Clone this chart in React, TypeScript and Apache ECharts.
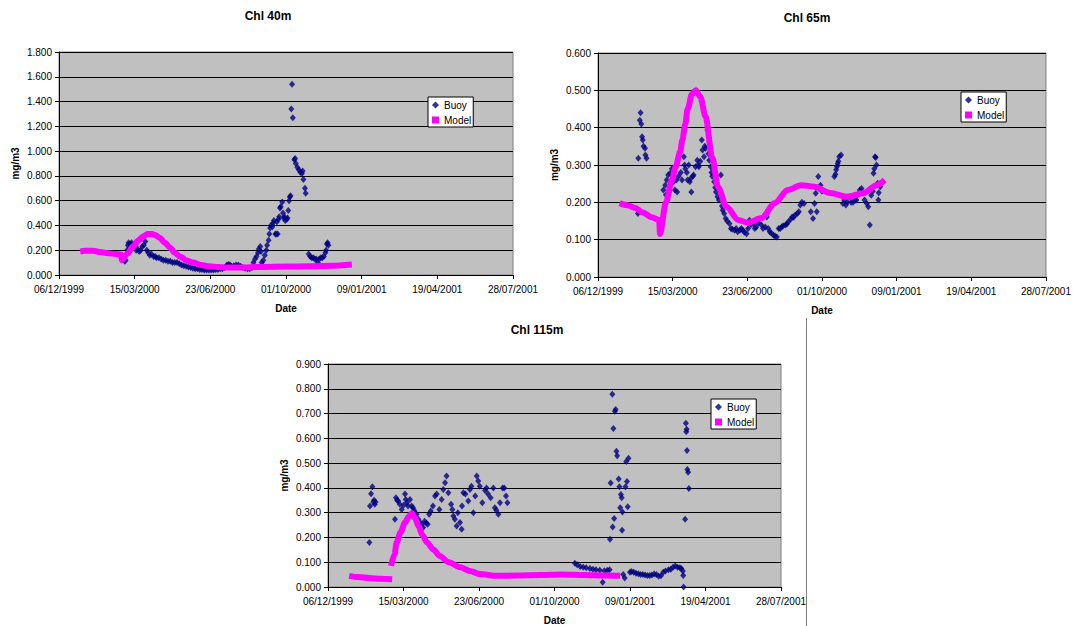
import React, { useEffect, useRef } from "react";
import * as echarts from "echarts";

const FONT = '"Liberation Sans", Arial, Helvetica, sans-serif';

// x values are days counted from 06/12/1999
const START_UTC = Date.UTC(1999, 11, 6);
const X_MAX_DAYS = 600;
const X_STEP_DAYS = 100;

const chartTitles = ["Chl 40m", "Chl 65m", "Chl 115m"];
const yMaxes = [1.8, 0.6, 0.9];
const yIntervals = [0.2, 0.1, 0.1];

const buoy40: [number, number][] = [
  [87, 0.11], [88, 0.12], [90, 0.2], [91, 0.24], [92, 0.26], [94, 0.25], [96, 0.26], [98, 0.24], [100, 0.24],
  [102, 0.2], [104, 0.21], [106, 0.19], [108, 0.2], [110, 0.23], [112, 0.24], [114, 0.27], [116, 0.2], [118, 0.18],
  [120, 0.16], [122, 0.17], [125, 0.15], [127, 0.15], [129, 0.14], [132, 0.14], [135, 0.13], [138, 0.12], [141, 0.12],
  [144, 0.11], [147, 0.11], [150, 0.1], [153, 0.1], [156, 0.1], [159, 0.09], [162, 0.08], [165, 0.075], [168, 0.07],
  [171, 0.065], [174, 0.06], [177, 0.055], [180, 0.05], [183, 0.05], [186, 0.045], [189, 0.045], [192, 0.04],
  [195, 0.04], [198, 0.04], [201, 0.04], [204, 0.04], [207, 0.045], [210, 0.045], [213, 0.05], [216, 0.05],
  [219, 0.06], [222, 0.08], [224, 0.085], [226, 0.08], [228, 0.07], [231, 0.075], [234, 0.08], [237, 0.08],
  [240, 0.07], [243, 0.06], [246, 0.055], [249, 0.05], [252, 0.05], [255, 0.06], [257, 0.1], [259, 0.13],
  [261, 0.15], [263, 0.18], [264, 0.21], [266, 0.23], [267, 0.19], [268, 0.1], [270, 0.12], [272, 0.16],
  [274, 0.2], [275, 0.24], [277, 0.28], [278, 0.33], [279, 0.38], [280, 0.4], [282, 0.39], [283, 0.42],
  [284, 0.44], [286, 0.33], [287, 0.33], [288, 0.43], [289, 0.33], [290, 0.45], [291, 0.47], [292, 0.54],
  [293, 0.55], [295, 0.59], [296, 0.5], [297, 0.46], [298, 0.47], [299, 0.44], [301, 0.45], [302, 0.46],
  [303, 0.52], [304, 0.6], [305, 0.63], [306, 0.64], [307, 1.34], [308, 1.54], [309, 1.27], [311, 0.93],
  [312, 0.94], [313, 0.9], [315, 0.87], [317, 0.85], [319, 0.83], [321, 0.82], [322, 0.84], [323, 0.77],
  [325, 0.7], [326, 0.66], [330, 0.17], [332, 0.15], [334, 0.14], [336, 0.14], [338, 0.13], [340, 0.13],
  [342, 0.1], [344, 0.13], [346, 0.14], [348, 0.14], [350, 0.15], [352, 0.18], [353, 0.2], [354, 0.25],
  [355, 0.26], [356, 0.24],
];

const model40: [number, number][] = [
  [28, 0.19], [35, 0.195], [45, 0.195], [55, 0.185], [65, 0.175], [75, 0.17], [82, 0.165], [83, 0.12],
  [90, 0.17], [98, 0.23], [105, 0.28], [111, 0.31], [117, 0.33], [123, 0.33], [128, 0.32], [133, 0.3],
  [140, 0.26], [147, 0.22], [153, 0.18], [160, 0.15], [168, 0.12], [177, 0.1], [188, 0.08], [199, 0.07],
  [210, 0.065], [222, 0.06], [240, 0.06], [265, 0.065], [300, 0.068], [331, 0.07], [360, 0.075], [387, 0.085],
];

const buoy65: [number, number][] = [
  [53.5, 0.17], [54, 0.318], [56, 0.42], [57, 0.44], [58, 0.41], [59, 0.376], [60, 0.367], [61, 0.35],
  [63, 0.345], [63.5, 0.327], [65, 0.318],
  [87.5, 0.233], [90, 0.246], [91, 0.22], [92, 0.26], [94, 0.273], [95, 0.228], [96.6, 0.278], [99, 0.29],
  [100, 0.265], [101, 0.255], [103, 0.233], [105, 0.26], [106, 0.228], [108, 0.27], [110, 0.336], [111, 0.28],
  [112.5, 0.26], [115, 0.322], [116, 0.3], [117, 0.29], [119, 0.28], [120, 0.26], [121.5, 0.3], [123, 0.255],
  [124, 0.264], [125, 0.228], [127, 0.27], [128, 0.273], [130.6, 0.295], [133, 0.313], [134, 0.3], [135, 0.295],
  [137, 0.31], [139, 0.367], [140, 0.34], [142, 0.322], [143, 0.35], [144, 0.345], [146.5, 0.394], [148, 0.33],
  [149, 0.313], [151, 0.295], [152, 0.28], [153, 0.27], [155.6, 0.255], [157, 0.24], [158, 0.228], [160, 0.215],
  [162, 0.206], [164.6, 0.273], [166, 0.19], [167, 0.179], [169, 0.17], [171, 0.157], [173, 0.15], [176, 0.143],
  [178, 0.13], [180, 0.128], [183, 0.125], [185, 0.13], [187, 0.121], [190, 0.125], [192, 0.13], [194, 0.125],
  [196, 0.12], [199, 0.116], [201, 0.13], [203, 0.152], [205, 0.14], [208, 0.143], [210, 0.13], [212, 0.134],
  [215, 0.145], [219, 0.139], [221, 0.13], [224, 0.134], [226, 0.161], [228, 0.13], [230, 0.121], [232, 0.118],
  [235, 0.112], [237, 0.11], [239.5, 0.107], [242, 0.13], [244, 0.13], [246, 0.134], [248, 0.137], [251, 0.139],
  [253, 0.142], [255, 0.148], [258, 0.155], [260, 0.161], [262, 0.16], [264, 0.166], [267, 0.17], [269, 0.175],
  [271, 0.193], [273, 0.2], [276, 0.197],
  [285, 0.175], [288, 0.157], [290, 0.197], [291.6, 0.224], [293, 0.175], [295, 0.269], [296, 0.237],
  [298, 0.246], [300, 0.23],
  [316.6, 0.269], [318, 0.275], [319, 0.287], [320, 0.295], [321, 0.304], [322, 0.31], [323, 0.322],
  [325.6, 0.327], [328, 0.197], [330, 0.206], [332, 0.193], [334, 0.2], [337, 0.215], [339, 0.2], [341.5, 0.2],
  [344, 0.205], [346, 0.206], [348, 0.22], [350.6, 0.233], [353, 0.237], [355, 0.224], [357, 0.206],
  [360, 0.197], [362, 0.188], [364, 0.139], [366, 0.219], [368, 0.23], [369, 0.278], [370, 0.29], [371, 0.322],
  [372, 0.32], [373, 0.3], [374.6, 0.251], [375.5, 0.206], [376, 0.226], [378, 0.242],
];

const model65: [number, number][] = [
  [29, 0.198], [40, 0.192], [50, 0.185], [60, 0.173], [72, 0.16], [82, 0.153], [83, 0.115], [91, 0.2],
  [99, 0.26], [104, 0.295], [110, 0.335], [113, 0.367], [117, 0.41], [120, 0.45], [126, 0.49], [131, 0.5],
  [137, 0.483], [144, 0.43], [153, 0.32], [161, 0.24], [172, 0.188], [188, 0.153], [201, 0.145], [219, 0.158],
  [237, 0.198], [254, 0.233], [272, 0.246], [290, 0.242], [311, 0.225], [334, 0.215], [356, 0.225],
  [373, 0.246], [384, 0.26],
];

const buoy115: [number, number][] = [
  [54.8, 0.18], [55.6, 0.327], [57, 0.376], [58.7, 0.405], [60, 0.343], [61, 0.35], [62, 0.334], [63, 0.343],
  [88.7, 0.273], [90, 0.36], [91.5, 0.35], [93, 0.347], [95, 0.334], [97.6, 0.313], [100, 0.33], [102, 0.375],
  [103, 0.353], [104.5, 0.34], [106, 0.327], [108.6, 0.353], [110.8, 0.327], [112.5, 0.32], [114, 0.31],
  [115.5, 0.3], [117.4, 0.294], [119.6, 0.273], [122, 0.26], [124, 0.253], [126, 0.24], [128, 0.265],
  [130, 0.258], [132, 0.253], [134, 0.294], [136, 0.307], [139, 0.327], [141.7, 0.367], [144, 0.375],
  [147.5, 0.313], [150.5, 0.353], [152.7, 0.394], [155, 0.421], [157, 0.448], [159.4, 0.38], [163, 0.334],
  [164.7, 0.313], [166, 0.287], [168, 0.273], [170.4, 0.246], [172, 0.3], [174.8, 0.26], [177, 0.233],
  [177.5, 0.327], [179.3, 0.38], [182, 0.375], [185.8, 0.347], [188, 0.394], [190, 0.407], [192.5, 0.3],
  [195, 0.367], [197, 0.448], [199, 0.428], [201, 0.407], [204.4, 0.34], [208, 0.389], [210, 0.4],
  [212, 0.375], [215.4, 0.36], [219, 0.4], [221, 0.32], [223, 0.31], [225.6, 0.294], [227.8, 0.34],
  [231.4, 0.4], [233.5, 0.4], [235.8, 0.367], [237.6, 0.34],
  [327, 0.096], [330, 0.09], [334, 0.083], [338, 0.08], [342, 0.078], [347, 0.075], [351, 0.072], [355, 0.07],
  [360, 0.068], [363.8, 0.019], [366, 0.066], [370, 0.068], [373, 0.07], [373.5, 0.193], [374.4, 0.42],
  [376.6, 0.778], [377, 0.242], [378, 0.64], [379, 0.276], [380, 0.709], [381, 0.716], [382, 0.548],
  [383, 0.53], [385, 0.436], [386, 0.405], [387, 0.32], [388, 0.373], [389, 0.36], [389.5, 0.229],
  [390, 0.303], [391, 0.05], [393, 0.036], [394, 0.405], [395, 0.507], [396, 0.426], [397, 0.324],
  [398, 0.52], [400, 0.06], [402, 0.063], [405, 0.06], [408, 0.055], [411, 0.053], [414, 0.05], [417, 0.05],
  [420, 0.048], [423, 0.046], [426, 0.046], [429, 0.048], [432, 0.052], [435, 0.05], [438, 0.043],
  [441, 0.045], [444, 0.06], [447, 0.065], [451, 0.07], [454, 0.072], [457, 0.08], [460, 0.085], [463, 0.08],
  [466, 0.078], [468, 0.075], [470, 0.065], [470.5, 0.046], [471, 0.0], [473, 0.273], [474, 0.661],
  [474.5, 0.627], [475, 0.637], [475.5, 0.551], [476, 0.474], [477, 0.463], [478, 0.398],
];

const model115a: [number, number][] = [
  [28, 0.045], [40, 0.04], [55, 0.036], [70, 0.033], [85, 0.031],
];
const model115b: [number, number][] = [
  [83.5, 0.085], [88, 0.13], [91, 0.18], [96, 0.22], [102, 0.26], [107, 0.285], [111, 0.298], [115, 0.28],
  [120, 0.245], [125, 0.21], [131, 0.18], [140, 0.15], [148, 0.125], [160, 0.1], [175, 0.08], [188, 0.065],
  [201, 0.052], [223, 0.045], [250, 0.046], [280, 0.048], [310, 0.05], [340, 0.048], [365, 0.046], [387, 0.045],
];

// layout (pixels)
const grids = [
  { left: 59, top: 52, width: 454, height: 223 },
  { left: 598, top: 53, width: 453, height: 224 },
  { left: 328, top: 364, width: 453, height: 224 },
];
const titlePos = [
  [268, 16],
  [807, 18],
  [537, 330],
];
const legendPos = [
  [428, 97],
  [961, 92],
  [711, 399],
];

function fmtDate(v: number): string {
  const d = new Date(START_UTC + Math.round(v) * 86400000);
  const dd = String(d.getUTCDate()).padStart(2, "0");
  const mm = String(d.getUTCMonth() + 1).padStart(2, "0");
  return `${dd}/${mm}/${d.getUTCFullYear()}`;
}

export default function App() {
  const ref = useRef<HTMLDivElement>(null);
  useEffect(() => {
    if (!ref.current) return;
    const chart = echarts.init(ref.current, null, { renderer: "svg" });
    const buoys = [buoy40, buoy65, buoy115];
    const models = [[model40], [model65], [model115a, model115b]];

    const series: any[] = [];
    buoys.forEach((b, i) => {
      series.push({
        type: "scatter",
        name: "Buoy",
        xAxisIndex: i,
        yAxisIndex: i,
        data: b,
        symbol: "diamond",
        symbolSize: [6, 7],
        itemStyle: { color: "#000080" },
        z: 2,
      });
      models[i].forEach((m) => {
        series.push({
          type: "line",
          name: "Model",
          xAxisIndex: i,
          yAxisIndex: i,
          data: m,
          symbol: "none",
          smooth: 0.3,
          smoothMonotone: "x",
          lineStyle: { color: "#FF00FF", width: 6 },
          itemStyle: { color: "#FF00FF" },
          z: 3,
        });
      });
    });

    const option: any = {
      animation: false,
      grid: grids.map((g) => ({
        ...g,
        show: true,
        backgroundColor: "#C0C0C0",
        borderColor: "#808080",
        borderWidth: 1,
        containLabel: false,
      })),
      xAxis: grids.map((_, i) => ({
        gridIndex: i,
        type: "value",
        min: 0,
        max: X_MAX_DAYS,
        interval: X_STEP_DAYS,
        name: "Date",
        nameLocation: "middle",
        nameGap: 28,
        nameTextStyle: { fontWeight: "bold", fontSize: 10, color: "#000", fontFamily: FONT },
        axisLine: { show: true, onZero: false, lineStyle: { color: "#000", width: 1 } },
        axisTick: { show: true, length: 4, lineStyle: { color: "#000" } },
        axisLabel: { formatter: fmtDate, fontSize: 10, color: "#000", margin: 9, fontFamily: FONT },
        splitLine: { show: false },
      })),
      yAxis: grids.map((_, i) => ({
        gridIndex: i,
        type: "value",
        min: 0,
        max: yMaxes[i],
        interval: yIntervals[i],
        name: "mg/m3",
        nameLocation: "middle",
        nameRotate: 90,
        nameGap: 39,
        nameTextStyle: { fontWeight: "bold", fontSize: 10, color: "#000", fontFamily: FONT },
        axisLine: { show: true, onZero: false, lineStyle: { color: "#000", width: 1 } },
        axisTick: { show: true, length: 4, lineStyle: { color: "#000" } },
        axisLabel: {
          formatter: (v: number) => v.toFixed(3),
          fontSize: 10,
          color: "#000",
          margin: 7,
          fontFamily: FONT,
        },
        splitLine: { show: true, lineStyle: { color: "#000", width: 1 } },
      })),
      legend: legendPos.map(([l, t]) => ({
        orient: "vertical",
        left: l,
        top: t,
        padding: [3, 2, 2, 4],
        itemWidth: 7,
        itemHeight: 7,
        itemGap: 5,
        backgroundColor: "#FFFFFF",
        borderColor: "#000",
        borderWidth: 1,
        selectedMode: false,
        textStyle: { fontSize: 10, color: "#000", fontFamily: FONT },
        data: [
          { name: "Buoy", icon: "diamond" },
          { name: "Model", icon: "rect" },
        ],
      })),
      graphic: [
        ...chartTitles.map((t, i) => ({
          type: "text",
          x: titlePos[i][0],
          y: titlePos[i][1],
          style: {
            text: t,
            font: `bold 12px ${FONT}`,
            fill: "#000",
            textAlign: "center",
            textVerticalAlign: "middle",
          },
        })),
        {
          type: "line",
          shape: { x1: 806.5, y1: 318, x2: 806.5, y2: 626 },
          style: { stroke: "#808080", lineWidth: 1 },
        },
      ],
      series,
    };
    chart.setOption(option);
    return () => chart.dispose();
  }, []);

  return (
    <div
      ref={ref}
      style={{ position: "absolute", left: 0, top: 0, width: 1074, height: 626, background: "#fff" }}
    />
  );
}
